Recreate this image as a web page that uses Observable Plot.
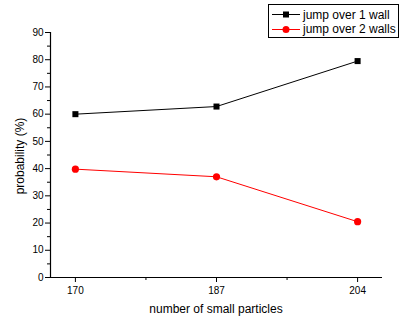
<!DOCTYPE html>
<html>
<head>
<meta charset="utf-8">
<script src="https://cdn.jsdelivr.net/npm/d3@7"></script>
<script src="https://cdn.jsdelivr.net/npm/@observablehq/plot@0.6"></script>
<style>
  body { margin: 0; background: #fff; font-family: "Liberation Sans", Arial, sans-serif; }
  #wrap { position: relative; width: 400px; height: 320px; }
  #legend { position: absolute; left: 268px; top: 4px; width: 129px; height: 32px; border: 1px solid #000; background: #fff; font-size: 12px; }
  .row { position: absolute; left: 3px; height: 15px; display: flex; align-items: center; }
  .row svg { margin-right: 3px; }
</style>
</head>
<body>
<div id="wrap"></div>
<script>
const categories = [170, 187, 204];
const wall1 = [60, 62.8, 79.5];
const wall2 = [39.8, 37, 20.5];
const yTicks = [0, 10, 20, 30, 40, 50, 60, 70, 80, 90];
const yMinor = [5, 15, 25, 35, 45, 55, 65, 75, 85];
const xMinor = [178.5, 195.5];
const seriesNames = ["jump over 1 wall", "jump over 2 walls"];

const d1 = categories.map((c, i) => ({x: c, y: wall1[i]}));
const d2 = categories.map((c, i) => ({x: c, y: wall2[i]}));

const chart = Plot.plot({
  width: 400,
  height: 320,
  marginLeft: 50,
  marginRight: 18,
  marginTop: 32,
  marginBottom: 43,
  style: {fontFamily: "Liberation Sans, Arial, sans-serif", fontSize: "10px", background: "#fff", color: "#000"},
  x: {domain: [167, 207], label: null},
  y: {domain: [0, 90], label: null},
  marks: [
    Plot.axisY({ticks: yTicks, tickSize: 5, tickPadding: 2, label: null, fontSize: 10}),
    Plot.axisY({ticks: yMinor, tickSize: 3, text: null, label: null}),
    Plot.axisX({ticks: categories, tickSize: 5, tickPadding: 4, label: null, tickFormat: d => String(d), fontSize: 10}),
    Plot.axisX({ticks: xMinor, tickSize: 3, text: null, label: null}),
    Plot.ruleX([167], {stroke: "#000", strokeWidth: 1.2}),
    Plot.ruleY([0], {stroke: "#000", strokeWidth: 1.2}),
    Plot.line(d1, {x: "x", y: "y", stroke: "#000", strokeWidth: 1}),
    Plot.dot(d1, {x: "x", y: "y", symbol: "square", r: 3.4, fill: "#000", stroke: "none"}),
    Plot.line(d2, {x: "x", y: "y", stroke: "#ff0000", strokeWidth: 1}),
    Plot.dot(d2, {x: "x", y: "y", symbol: "circle", r: 3.6, fill: "#ff0000", stroke: "none"})
  ]
});

const wrap = document.getElementById("wrap");
wrap.appendChild(chart);

// axis titles
const svg = d3.select(chart);
svg.append("text")
  .attr("x", 216).attr("y", 313)
  .attr("text-anchor", "middle")
  .attr("font-size", 12)
  .attr("fill", "#000")
  .text("number of small particles");
svg.append("text")
  .attr("transform", "translate(24,156) rotate(-90)")
  .attr("text-anchor", "middle")
  .attr("font-size", 12)
  .attr("fill", "#000")
  .text("probability (%)");

// legend
const legend = document.createElement("div");
legend.id = "legend";
const styles = [
  {color: "#000", shape: "square"},
  {color: "#ff0000", shape: "circle"}
];
seriesNames.forEach((name, i) => {
  const row = document.createElement("div");
  row.className = "row";
  row.style.top = (2 + i * 14.5) + "px";
  const s = styles[i];
  const marker = s.shape === "square"
    ? `<rect x="11" y="4.5" width="6" height="6" fill="${s.color}"/>`
    : `<circle cx="14" cy="7.5" r="3.5" fill="${s.color}"/>`;
  row.innerHTML = `<svg width="28" height="15"><line x1="0" x2="28" y1="7.5" y2="7.5" stroke="${s.color}" stroke-width="1"/>${marker}</svg><span>${name}</span>`;
  legend.appendChild(row);
});
wrap.appendChild(legend);
</script>
</body>
</html>
